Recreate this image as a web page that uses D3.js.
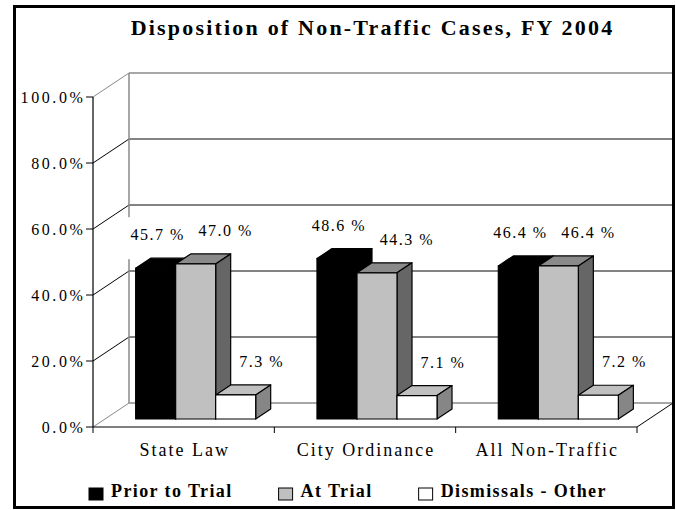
<!DOCTYPE html>
<html><head><meta charset="utf-8">
<script src="https://cdn.jsdelivr.net/npm/d3@7"></script>
<style>
body{margin:0;background:#fff}
svg{display:block}
text{font-family:"Liberation Serif","DejaVu Serif",serif;fill:#000}
</style>
</head><body>
<svg id="chart" width="676" height="510"></svg>
<script>
// ---- data ----
const title = "Disposition of Non-Traffic Cases, FY 2004";
const categories = ["State Law", "City Ordinance", "All Non-Traffic"];
const seriesNames = ["Prior to Trial", "At Trial", "Dismissals - Other"];
const priorToTrial = [0.457, 0.486, 0.464];
const atTrial = [0.470, 0.443, 0.464];
const dismissalsOther = [0.073, 0.071, 0.072];
const yTicks = [0, 0.2, 0.4, 0.6, 0.8, 1.0];

const seriesValues = [priorToTrial, atTrial, dismissalsOther];

// ---- styles / layout ----
const faceColors = [
  {front: "#000000", top: "#000000", side: "#000000"},
  {front: "#c0c0c0", top: "#8a8a8a", side: "#666666"},
  {front: "#ffffff", top: "#c0c0c0", side: "#868686"}
];
const legendColors = ["#000000", "#c0c0c0", "#ffffff"];
const labelDx = [2, 30, 26];

const svg = d3.select("#chart");
svg.append("rect").attr("width", 676).attr("height", 510).attr("fill", "#fff");

const wall = {dx: 36, dy: -24};
const barOff = {dx: 12, dy: -8};
const barDepth = {dx: 15, dy: -10};

const y = d3.scaleLinear().domain([0, 1]).range([427, 97]);
const x = d3.scaleBand().domain(categories).range([93, 637])
  .paddingInner(0.338).paddingOuter(0.169);
const xs = d3.scaleBand().domain(seriesNames).range([0, x.bandwidth()]);
const [fx0, fx1] = x.range();

// ---- title ----
svg.append("text")
  .attr("x", 372.5).attr("y", 35)
  .attr("text-anchor", "middle")
  .style("font-size", "22px").style("font-weight", "bold")
  .style("letter-spacing", "2.2px")
  .text(title);

// ---- back wall gridlines ----
const g = svg.append("g");
yTicks.forEach(t => {
  const edge = (t === 0 || t === 1);
  g.append("line")
    .attr("x1", fx0 + wall.dx).attr("x2", fx1 + wall.dx)
    .attr("y1", y(t) + wall.dy).attr("y2", y(t) + wall.dy)
    .attr("stroke", edge ? "#8a8a8a" : "#5a5a5a").attr("stroke-width", 1.5);
  // side wall diagonal
  g.append("line")
    .attr("x1", fx0).attr("y1", y(t))
    .attr("x2", fx0 + wall.dx).attr("y2", y(t) + wall.dy)
    .attr("stroke", edge ? "#8a8a8a" : "#000").attr("stroke-width", 1);
});
// back wall left vertical
g.append("line")
  .attr("x1", fx0 + wall.dx).attr("x2", fx0 + wall.dx)
  .attr("y1", y(0) + wall.dy).attr("y2", y(1) + wall.dy)
  .attr("stroke", "#8a8a8a").attr("stroke-width", 1.5);
// floor right diagonal
g.append("line")
  .attr("x1", fx1).attr("y1", y(0))
  .attr("x2", fx1 + wall.dx).attr("y2", y(0) + wall.dy)
  .attr("stroke", "#000").attr("stroke-width", 1);

// ---- label backgrounds (white boxes, drawn behind bars) ----
const labelData = [];
categories.forEach((c, ci) => {
  seriesNames.forEach((s, si) => {
    const v = seriesValues[si][ci];
    const x0 = x(c) + xs(s) + barOff.dx;
    const x1 = x0 + xs.bandwidth();
    const top = y(v) + barOff.dy;
    labelData.push({x: (x0 + x1) / 2 + labelDx[si], y: top - 28,
      text: d3.format(".1f")(v * 100) + " %"});
  });
});
const lbg = svg.append("g");
const lbl = svg.append("g");

// ---- bars ----
const bars = svg.append("g").attr("stroke", "#000").attr("stroke-width", 1.2)
  .attr("stroke-linejoin", "round");
categories.forEach((c, ci) => {
  seriesNames.forEach((s, si) => {
    const v = seriesValues[si][ci];
    const x0 = x(c) + xs(s) + barOff.dx;
    const x1 = x0 + xs.bandwidth();
    const yb = y(0) + barOff.dy;
    const yt = y(v) + barOff.dy;
    const d = barDepth;
    const col = faceColors[si];
    bars.append("polygon")
      .attr("points", [[x0, yt], [x1, yt], [x1 + d.dx, yt + d.dy], [x0 + d.dx, yt + d.dy]].join(" "))
      .attr("fill", col.top);
    bars.append("polygon")
      .attr("points", [[x1, yt], [x1 + d.dx, yt + d.dy], [x1 + d.dx, yb + d.dy], [x1, yb]].join(" "))
      .attr("fill", col.side);
    bars.append("rect")
      .attr("x", x0).attr("y", yt).attr("width", x1 - x0).attr("height", yb - yt)
      .attr("fill", col.front);
  });
});

// ---- front axis ----
const ax = svg.append("g");
ax.append("line").attr("x1", fx0).attr("x2", fx0).attr("y1", y(0)).attr("y2", y(1))
  .attr("stroke", "#000").attr("stroke-width", 1.2);
ax.append("line").attr("x1", fx0).attr("x2", fx1).attr("y1", y(0)).attr("y2", y(0))
  .attr("stroke", "#000").attr("stroke-width", 1.2);
yTicks.forEach(t => {
  ax.append("line").attr("x1", fx0 - 7).attr("x2", fx0).attr("y1", y(t)).attr("y2", y(t))
    .attr("stroke", "#000").attr("stroke-width", 1);
  ax.append("text").attr("x", fx0 - 7.5).attr("y", y(t) + 6)
    .attr("text-anchor", "end")
    .style("font-size", "16px").style("letter-spacing", "2.6px")
    .text(d3.format(".1%")(t));
});
// category boundary ticks
const bounds = categories.map(c => x(c) - x.step() * x.paddingInner() / 2);
bounds.push(fx1);
bounds[0] = fx0;
bounds.forEach(b => {
  ax.append("line").attr("x1", b).attr("x2", b).attr("y1", y(0)).attr("y2", y(0) + 6)
    .attr("stroke", "#000").attr("stroke-width", 1);
});
categories.forEach(c => {
  ax.append("text").attr("x", x(c) + x.bandwidth() / 2 + 1).attr("y", 456)
    .attr("text-anchor", "middle")
    .style("font-size", "18px").style("letter-spacing", "2px")
    .text(c);
});

// ---- value labels ----
labelData.forEach(l => {
  const t = lbl.append("text").attr("x", l.x).attr("y", l.y)
    .attr("text-anchor", "middle")
    .style("font-size", "16px").style("letter-spacing", "1.5px")
    .text(l.text);
  const w = t.node().getComputedTextLength();
  lbg.append("rect").attr("x", l.x - w / 2 - 3).attr("y", l.y - 23)
    .attr("width", w + 6).attr("height", 42).attr("fill", "#fff");
});

// ---- legend ----
const leg = svg.append("g");
let cx = 89;
seriesNames.forEach((s, i) => {
  leg.append("rect").attr("x", cx).attr("y", 488).attr("width", 14).attr("height", 12)
    .attr("fill", legendColors[i]).attr("stroke", "#000").attr("stroke-width", 1);
  const t = leg.append("text").attr("x", cx + 22).attr("y", 497)
    .style("font-size", "18px").style("font-weight", "bold").style("letter-spacing", "1.4px")
    .text(s);
  cx = cx + 22 + t.node().getComputedTextLength() + 46;
});

// ---- outer border ----
svg.append("rect").attr("x", 14.5).attr("y", 6.5).attr("width", 659).attr("height", 501)
  .attr("fill", "none").attr("stroke", "#000").attr("stroke-width", 3);
</script>
</body></html>
